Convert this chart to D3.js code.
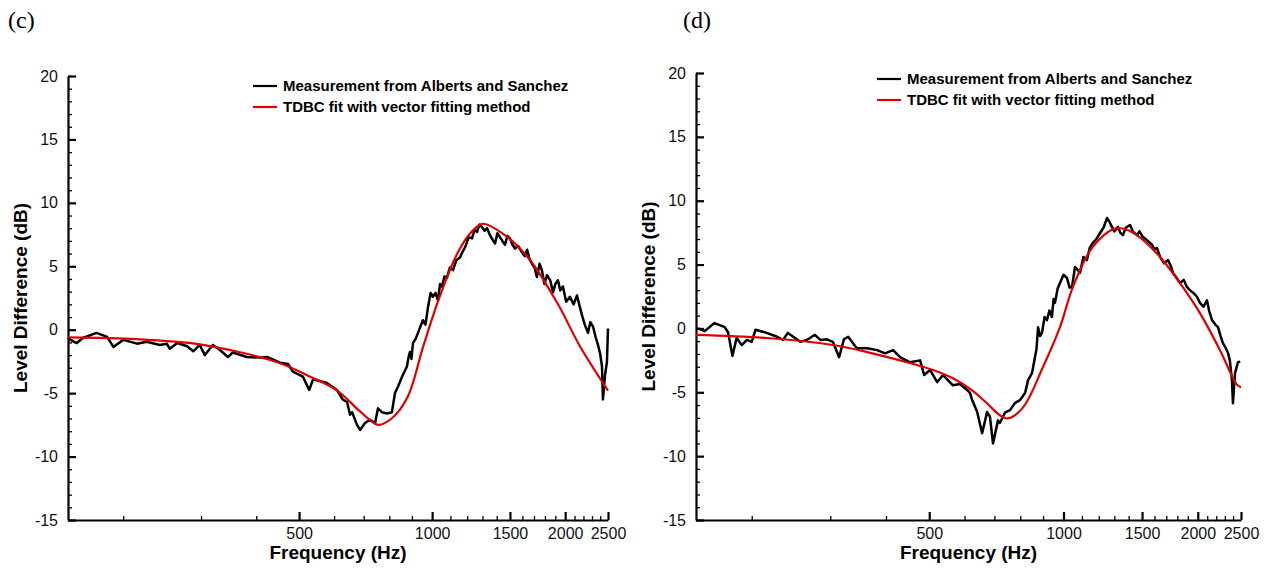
<!DOCTYPE html>
<html>
<head>
<meta charset="utf-8">
<script src="https://cdn.jsdelivr.net/npm/d3@7"></script>
<style>
  body { margin: 0; background: #fff; }
  svg { font-family: Arial, "Liberation Sans", sans-serif; }
  .tick text { font-size: 16px; fill: #111; }
  .axis path, .axis line { stroke: #000; }
</style>
</head>
<body>
<div id="chart"></div>
<script>
var W = 1268, H = 569;

// tick values
var freqMajor = [500, 1000, 1500, 2000, 2500];
var freqMinor = [200, 300, 400, 600, 700, 800, 900, 1100, 1200, 1300, 1400,
  1600, 1700, 1800, 1900, 2100, 2200, 2300, 2400];
var dbMajor = [-15, -10, -5, 0, 5, 10, 15, 20];

var legendNames = ["Measurement from Alberts and Sanchez", "TDBC fit with vector fitting method"];

// panel (c) - measurement [Hz, dB]
var cMeasured = [
  [150, -0.6], [152, -0.8], [157, -1.05], [162, -0.65], [174, -0.25], [184, -0.57], [190, -1.36],
  [200, -0.8], [215, -1.1], [226, -0.95], [242, -1.2], [251, -1.1], [255, -1.5],
  [265, -1.05], [279, -1.3], [288, -1.7], [298, -1.2], [306, -2.0], [319, -1.2],
  [331, -1.6], [345, -2.15], [354, -1.8], [381, -2.15], [408, -2.2], [423, -2.15],
  [453, -2.6], [472, -2.7], [484, -3.3], [510, -3.7], [527, -4.75], [538, -3.9],
  [578, -4.2], [609, -4.75], [628, -5.5], [642, -5.7], [652, -6.7], [659, -6.5],
  [676, -7.5], [687, -7.9], [705, -7.35], [723, -7.1], [743, -7.35], [754, -6.2],
  [770, -6.5], [791, -6.6], [811, -6.5], [824, -5.0], [837, -4.5], [855, -3.7],
  [877, -2.9], [884, -2.2], [891, -1.75], [898, -2.3], [905, -1.05], [918, -0.7], [929, -0.25],
  [942, 0.3], [953, 0.75], [966, 0.4], [979, 1.8], [992, 2.9],
  [1004, 2.6], [1018, 2.9], [1031, 2.3], [1042, 3.6], [1053, 3.4], [1066, 4.2], [1080, 4.1],
  [1097, 4.9], [1115, 4.7], [1135, 5.5], [1156, 5.7], [1170, 6.1],
  [1187, 6.5], [1210, 7.3], [1231, 7.2], [1248, 7.9], [1263, 7.7], [1280, 8.3], [1296, 8.1],
  [1314, 7.8], [1331, 8.0], [1352, 7.45], [1370, 7.1],
  [1388, 6.8], [1405, 7.6], [1424, 7.3], [1442, 7.0], [1462, 6.7], [1480, 7.4], [1500, 7.2],
  [1520, 6.7], [1540, 6.4], [1565, 6.6], [1597, 6.1], [1620, 5.8],
  [1640, 6.3], [1660, 5.6], [1682, 5.2], [1705, 4.9], [1726, 4.15], [1750, 5.2], [1771, 4.7],
  [1795, 3.6], [1819, 4.3], [1850, 3.9], [1877, 2.95], [1900, 3.6],
  [1926, 3.9], [1950, 3.1], [1977, 3.4], [2010, 2.2], [2050, 2.6], [2090, 2.0], [2127, 2.7],
  [2155, 1.9], [2183, 1.15], [2215, 0.4], [2253, -0.25], [2280, 0.6],
  [2312, 0.25], [2345, -0.6], [2373, -1.2], [2400, -1.9], [2423, -2.9], [2435, -5.5],
  [2450, -4.4], [2461, -3.6], [2486, -2.55], [2500, 0.1]
];

// panel (c) - TDBC fit
var cFit = [
  [150, -0.6], [200, -0.7], [290, -1.1], [370, -1.8], [450, -2.6], [530, -3.7],
  [610, -4.8], [690, -6.5], [754, -7.5], [810, -7.0], [880, -5.3], [955, -1.3],
  [1040, 2.6], [1140, 6.0], [1220, 7.6], [1300, 8.35], [1480, 7.3], [1665, 5.5],
  [1920, 2.1], [2160, -1.3], [2500, -4.8]
];

// panel (d) - measurement
var dMeasured = [
  [150, 0.0], [153, -0.05], [157, -0.2], [165, 0.42], [174, 0.1], [177, -0.3], [181, -2.15],
  [185, -0.75], [190, -1.3], [195, -0.9], [200, -1.05], [204, -0.1], [216, -0.35],
  [228, -0.65], [235, -0.9], [241, -0.35], [257, -1.05], [266, -0.9], [277, -0.5],
  [285, -0.9], [295, -0.85], [304, -1.05], [314, -2.25], [322, -0.85], [329, -0.65],
  [344, -1.55], [363, -1.55], [382, -1.7], [398, -1.95], [415, -1.7], [430, -2.25],
  [453, -2.65], [477, -2.5], [487, -3.65], [502, -3.25], [521, -4.2], [537, -3.65],
  [565, -4.45], [586, -4.35], [607, -4.8], [617, -5.05], [624, -5.6], [640, -6.5],
  [657, -8.2], [674, -6.55], [684, -6.9], [695, -9.0], [713, -7.2], [720, -7.4],
  [739, -6.6], [759, -6.4], [778, -5.85], [799, -5.6], [820, -5.05], [833, -4.05],
  [850, -3.5], [863, -2.25], [870, -1.6], [877, 0.1], [886, -0.6], [895, -0.35], [907, 0.9],
  [918, 0.65], [930, 1.4], [942, 0.9], [950, 2.3],
  [957, 2.0], [970, 3.1], [982, 3.55], [1000, 4.2], [1018, 3.95], [1032, 3.2], [1045, 3.25],
  [1061, 4.8], [1075, 4.6], [1089, 4.35], [1108, 5.6],
  [1128, 5.35], [1145, 6.3], [1164, 6.7], [1185, 7.0], [1207, 7.45], [1230, 7.9], [1252, 8.65],
  [1270, 8.3], [1284, 7.95], [1300, 7.6], [1325, 7.95], [1340, 7.5],
  [1359, 7.3], [1380, 7.9], [1410, 8.1], [1430, 7.6], [1461, 7.3], [1480, 7.6], [1507, 7.15],
  [1540, 6.9], [1579, 6.55], [1600, 6.2], [1620, 6.3], [1646, 5.6], [1680, 5.1],
  [1715, 5.35], [1740, 4.9], [1760, 4.35], [1790, 4.0], [1825, 3.55], [1860, 3.8], [1891, 3.25],
  [1920, 3.0], [1952, 2.8], [1990, 2.5], [2023, 2.0], [2060, 1.7], [2097, 2.2], [2120, 1.4],
  [2152, 0.65], [2190, 0.3], [2220, 0.1], [2250, -0.6], [2277, -1.15], [2300, -1.4],
  [2337, -1.9], [2360, -2.5], [2386, -4.05], [2398, -5.85], [2424, -3.5], [2461, -2.65],
  [2490, -2.6]
];

// panel (d) - TDBC fit
var dFit = [
  [150, -0.5], [216, -0.75], [304, -1.3], [363, -1.85], [430, -2.5], [510, -3.25],
  [565, -3.9], [627, -4.9], [680, -6.0], [720, -6.8], [750, -7.05], [811, -6.2],
  [900, -3.0], [982, 0.1], [1050, 3.25], [1164, 6.4], [1318, 7.85], [1461, 7.3],
  [1646, 5.6], [1825, 3.55], [2023, 1.2], [2243, -1.7], [2448, -4.4], [2500, -4.6]
];

var svg = d3.select("#chart").append("svg")
  .attr("width", W)
  .attr("height", H);

// plain hyphen minus like the original figure
var plain = function(d) { return String(d); };

function drawPanel(p) {
  var x = d3.scaleLog().domain([150, 2500]).range([p.left, p.right]);
  var y = d3.scaleLinear().domain([-15, 20]).range([p.bottom, p.top]);
  var g = svg.append("g");

  // minor ticks first
  g.append("g")
    .attr("class", "axis")
    .attr("transform", "translate(0," + p.bottom + ")")
    .call(d3.axisBottom(x).tickValues(freqMinor).tickSize(-4).tickSizeOuter(0).tickFormat(""))
    .call(function(s) { s.select(".domain").remove(); s.selectAll("line").attr("stroke-width", 1.3); });

  g.append("g")
    .attr("class", "axis")
    .attr("transform", "translate(" + p.left + ",0)")
    .call(d3.axisLeft(y).tickValues(d3.range(-15, 21, 1)).tickSize(-4).tickSizeOuter(0).tickFormat(""))
    .call(function(s) { s.select(".domain").remove(); s.selectAll("line").attr("stroke-width", 1.3); });

  var xa = g.append("g")
    .attr("class", "axis")
    .attr("transform", "translate(0," + p.bottom + ")")
    .call(d3.axisBottom(x).tickValues(freqMajor).tickSize(-8).tickSizeOuter(0)
      .tickPadding(8).tickFormat(plain));
  xa.select(".domain").attr("stroke-width", 2.2);
  xa.selectAll("line").attr("stroke-width", 2.2);

  var ya = g.append("g")
    .attr("class", "axis")
    .attr("transform", "translate(" + p.left + ",0)")
    .call(d3.axisLeft(y).tickValues(dbMajor).tickSize(-8).tickSizeOuter(0).tickPadding(10)
      .tickFormat(plain));
  ya.select(".domain").attr("stroke-width", 2.2);
  ya.selectAll("line").attr("stroke-width", 2.2);
  g.selectAll(".tick text").attr("font-family", "Arial, 'Liberation Sans', sans-serif");

  var line = d3.line().x(function(d) { return x(d[0]); }).y(function(d) { return y(d[1]); });
  var smooth = d3.line().curve(d3.curveCatmullRom)
    .x(function(d) { return x(d[0]); }).y(function(d) { return y(d[1]); });

  g.append("path")
    .datum(p.measured)
    .attr("fill", "none")
    .attr("stroke", "#000")
    .attr("stroke-width", 2.5)
    .attr("stroke-linejoin", "round")
    .attr("d", line);

  g.append("path")
    .datum(p.fit)
    .attr("fill", "none")
    .attr("stroke", "#e00000")
    .attr("stroke-width", 2.2)
    .attr("d", smooth);

  // axis titles
  g.append("text")
    .text("Frequency (Hz)")
    .attr("x", (p.left + p.right) / 2)
    .attr("y", p.bottom + 39)
    .attr("text-anchor", "middle")
    .attr("font-weight", "bold")
    .attr("font-size", "19px");

  g.append("text")
    .text("Level Difference (dB)")
    .attr("transform", "translate(" + (p.left - 41) + "," + ((p.top + p.bottom) / 2) + ") rotate(-90)")
    .attr("text-anchor", "middle")
    .attr("font-weight", "bold")
    .attr("font-size", "19px");

  // panel label
  g.append("text")
    .text(p.label)
    .attr("x", p.labelX)
    .attr("y", 28)
    .attr("font-family", "'Liberation Serif', 'Times New Roman', serif")
    .attr("font-size", "24px");

  // legend
  var colors = ["#000", "#e00000"];
  legendNames.forEach(function(name, i) {
    var ly = p.legendY + i * 21;
    g.append("line")
      .attr("x1", p.legendX).attr("x2", p.legendX + 24)
      .attr("y1", ly).attr("y2", ly)
      .attr("stroke", colors[i]).attr("stroke-width", 2.2);
    g.append("text")
      .text(name)
      .attr("x", p.legendX + 30)
      .attr("y", ly + 5)
      .attr("font-weight", "bold")
      .attr("font-size", "15px");
  });
}

drawPanel({label: "(c)", labelX: 8, left: 68, right: 608, top: 76, bottom: 520,
  measured: cMeasured, fit: cFit, legendX: 253, legendY: 86});
drawPanel({label: "(d)", labelX: 683, left: 696, right: 1241, top: 73, bottom: 520,
  measured: dMeasured, fit: dFit, legendX: 877, legendY: 79});
</script>
</body>
</html>
